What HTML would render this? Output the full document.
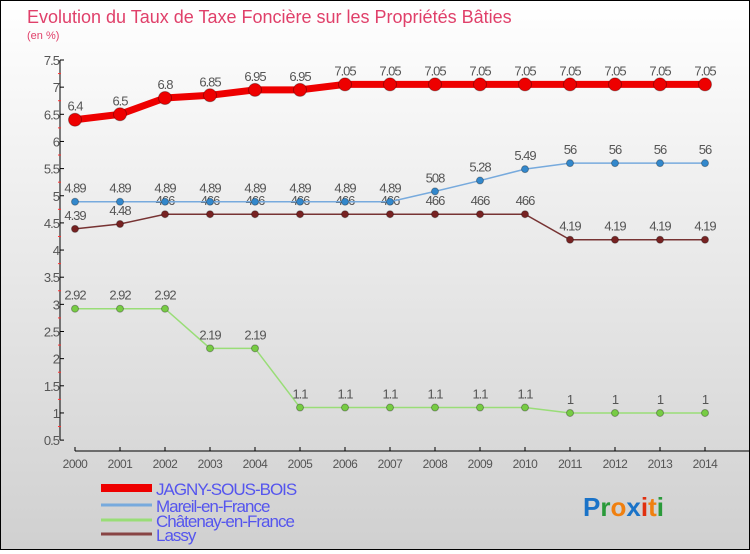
<!DOCTYPE html>
<html><head><meta charset="utf-8"><style>
body{margin:0}
#c{width:748px;height:548px;border:1px solid #000;background:linear-gradient(#fff,#d0d0d0);position:relative;font-family:"Liberation Sans",sans-serif}
</style></head><body>
<div id="c">
<svg id="s" width="748" height="548" font-family="Liberation Sans, sans-serif"></svg>
</div>
<script>
const years=[2000,2001,2002,2003,2004,2005,2006,2007,2008,2009,2010,2011,2012,2013,2014];
const jagny=[6.4,6.5,6.8,6.85,6.95,6.95,7.05,7.05,7.05,7.05,7.05,7.05,7.05,7.05,7.05];
const mareil=[4.89,4.89,4.89,4.89,4.89,4.89,4.89,4.89,5.08,5.28,5.49,5.6,5.6,5.6,5.6];
const mareilLbl=["4.89","4.89","4.89","4.89","4.89","4.89","4.89","4.89","508","5.28","5.49","56","56","56","56"];
const chat=[2.92,2.92,2.92,2.19,2.19,1.1,1.1,1.1,1.1,1.1,1.1,1,1,1,1];
const chatLbl=["2.92","2.92","2.92","2.19","2.19","1.1","1.1","1.1","1.1","1.1","1.1","1","1","1","1"];
const lassy=[4.39,4.48,4.66,4.66,4.66,4.66,4.66,4.66,4.66,4.66,4.66,4.19,4.19,4.19,4.19];
const lassyLbl=["4.39","4.48","466","466","466","466","466","466","466","466","466","4.19","4.19","4.19","4.19"];
const jagnyLbl=["6.4","6.5","6.8","6.85","6.95","6.95","7.05","7.05","7.05","7.05","7.05","7.05","7.05","7.05","7.05"];
const yTicks=[0.5,1,1.5,2,2.5,3,3.5,4,4.5,5,5.5,6,6.5,7,7.5];
const X=i=>74+i*45, Y=v=>59+(7.5-v)*54.3;
const s=document.getElementById('s');const NS='http://www.w3.org/2000/svg';
function el(t,a,txt){const e=document.createElementNS(NS,t);for(const k in a)e.setAttribute(k,a[k]);if(txt!=null)e.textContent=txt;s.appendChild(e);return e;}
let e;
e=el('text',{x:26,y:22,'font-size':18,fill:'#e0406a'},'Evolution du Taux de Taxe Foncière sur les Propriétés Bâties');

e=el('text',{x:26,y:38,'font-size':11,fill:'#e0406a'},'(en %)');

e=el('line',{x1:59,y1:Y(7.5),x2:59,y2:Y(0.5),stroke:'#000'});

yTicks.forEach(v=>{el('line',{x1:59,x2:63,y1:Y(v),y2:Y(v),stroke:'#000'});
e=el('text',{x:58,y:Y(v)+5,'font-size':13,fill:'#555','text-anchor':'end','letter-spacing':'-1'},String(v));

if(v<7.5)el('line',{x1:57,x2:60,y1:Y(v+0.25),y2:Y(v+0.25),stroke:'#f33'});});
e=el('line',{x1:74,y1:450,x2:748,y2:450,stroke:'#000'});

years.forEach((y,i)=>{el('line',{x1:X(i),x2:X(i),y1:446,y2:450,stroke:'#000'});
e=el('text',{x:X(i),y:467,'font-size':12,fill:'#555','text-anchor':'middle','letter-spacing':'-0.5'},String(y));
});
function series(d,lbl,col,dot,w,r,name){
e=el('polyline',{points:d.map((v,i)=>X(i)+','+Y(v)).join(' '),fill:'none',stroke:col,'stroke-width':w});

d.forEach((v,i)=>{e=el('circle',{cx:X(i),cy:Y(v),r:r,fill:dot,stroke:'rgba(0,0,0,0.3)'});

e=el('text',{x:X(i),y:Y(v)-9,'font-size':13,fill:'#555','text-anchor':'middle','letter-spacing':'-1'},lbl[i]);
});}
series(chat,chatLbl,'#99dd77','#77cc44',1.5,3.5,'chatenay');
series(lassy,lassyLbl,'#773333','#772222',1.5,3.5,'lassy');
series(mareil,mareilLbl,'#77aadd','#3388cc',1.5,3.5,'mareil');
series(jagny,jagnyLbl,'#ee0000','#ee0000',7,6.5,'jagny');
const leg=[['JAGNY-SOUS-BOIS','#ee0000',8,493],['Mareil-en-France','#77aadd',3,510],['Châtenay-en-France','#99dd77',3,525],['Lassy','#884444',3,539]];
leg.forEach(l=>{e=el('line',{x1:100,x2:151,y1:l[3]-6,y2:l[3]-6,stroke:l[1],'stroke-width':l[2]});

e=el('text',{x:155,y:l[3]+1,'font-size':17,fill:'#5555ee','letter-spacing':'-1'},l[0]);
});
const logo=[['P','#1a73c8'],['r','#2a9a3a'],['o','#f08010'],['x','#1a73c8'],['i','#e03010'],['t','#f08010'],['i','#2a9a3a']];
e=el('text',{x:582,y:515,'font-size':26,'font-weight':'bold'});

logo.forEach(c=>{const t=document.createElementNS(NS,'tspan');t.setAttribute('fill',c[1]);t.textContent=c[0];e.appendChild(t);});
</script>
</body></html>
